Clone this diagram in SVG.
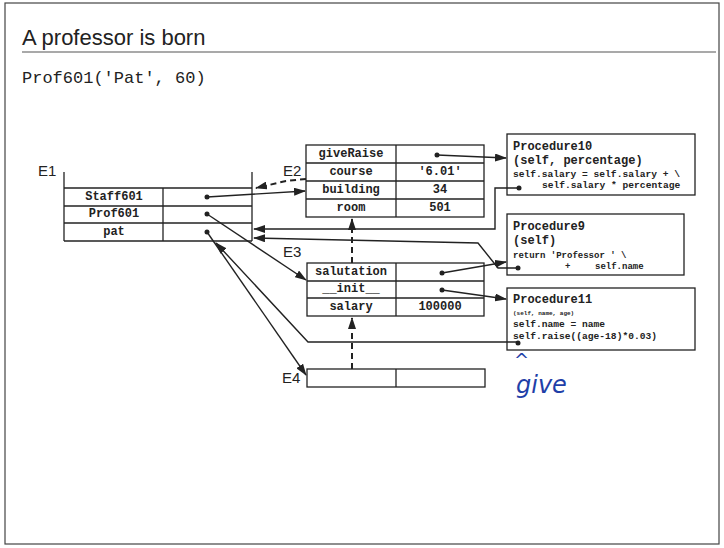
<svg xmlns="http://www.w3.org/2000/svg" width="724" height="548" viewBox="0 0 724 548">
<style>
.bx{fill:none;stroke:#222;stroke-width:1.3}
.ln{fill:none;stroke:#222;stroke-width:1.4}
.ds{fill:none;stroke:#222;stroke-width:2;stroke-dasharray:6,4}
.nm{font-family:"Liberation Mono",monospace;font-weight:bold;font-size:12px;fill:#222;text-anchor:middle;dominant-baseline:central}
.cd{font-family:"Liberation Mono",monospace;font-weight:bold;fill:#222}
.lb{font-family:"Liberation Sans",Arial,sans-serif;font-size:15px;fill:#222}
.dot{fill:#222}
</style>
<defs>
<marker id="ah" markerWidth="12" markerHeight="8" refX="11" refY="4" orient="auto" markerUnits="userSpaceOnUse">
<path d="M0,0 L12,4 L0,8 Z" fill="#222"/>
</marker>
</defs>
<rect x="5" y="3" width="714" height="541" fill="#fff" stroke="#444" stroke-width="1.2"/>
<text x="22" y="45" font-family="Liberation Sans,Arial,sans-serif" font-size="22" fill="#222">A professor is born</text>
<line x1="22" y1="52" x2="716" y2="52" stroke="#555" stroke-width="1.2"/>
<text x="22" y="83" font-family="Liberation Mono,monospace" font-size="17" fill="#222">Prof601('Pat', 60)</text>

<g id="E1">
<text class="lb" x="38" y="176">E1</text>
<line class="bx" x1="64" y1="172" x2="64" y2="241"/>
<line class="bx" x1="252" y1="172" x2="252" y2="241"/>
<line class="bx" x1="64" y1="188" x2="252" y2="188"/>
<line class="bx" x1="64" y1="206" x2="252" y2="206"/>
<line class="bx" x1="64" y1="223" x2="252" y2="223"/>
<line class="bx" x1="64" y1="241" x2="252" y2="241"/>
<line class="bx" x1="163" y1="188" x2="163" y2="241"/>
<text class="nm" x="114" y="197">Staff601</text>
<text class="nm" x="114" y="214">Prof601</text>
<text class="nm" x="114" y="232">pat</text>
<circle class="dot" cx="207" cy="197" r="2.5"/>
<circle class="dot" cx="207" cy="214" r="2.5"/>
<circle class="dot" cx="207" cy="232" r="2.5"/>
</g>

<g id="E2">
<text class="lb" x="283" y="176">E2</text>
<rect class="bx" x="306" y="145" width="178" height="72"/>
<line class="bx" x1="306" y1="163" x2="484" y2="163"/>
<line class="bx" x1="306" y1="181" x2="484" y2="181"/>
<line class="bx" x1="306" y1="199" x2="484" y2="199"/>
<line class="bx" x1="396" y1="145" x2="396" y2="217"/>
<text class="nm" x="351" y="154">giveRaise</text>
<text class="nm" x="351" y="172">course</text>
<text class="nm" x="351" y="190">building</text>
<text class="nm" x="351" y="208">room</text>
<text class="nm" x="440" y="172">'6.01'</text>
<text class="nm" x="440" y="190">34</text>
<text class="nm" x="440" y="208">501</text>
<circle class="dot" cx="437" cy="155" r="2.5"/>
</g>

<g id="E3">
<text class="lb" x="283" y="257">E3</text>
<rect class="bx" x="307" y="263" width="177" height="53"/>
<line class="bx" x1="307" y1="281" x2="484" y2="281"/>
<line class="bx" x1="307" y1="298" x2="484" y2="298"/>
<line class="bx" x1="396" y1="263" x2="396" y2="316"/>
<text class="nm" x="351" y="272">salutation</text>
<text class="nm" x="351" y="289">__init__</text>
<text class="nm" x="351" y="307">salary</text>
<text class="nm" x="440" y="307">100000</text>
<circle class="dot" cx="442" cy="273" r="2.5"/>
<circle class="dot" cx="442" cy="290" r="2.5"/>
</g>

<g id="E4">
<text class="lb" x="282" y="383">E4</text>
<rect class="bx" x="307" y="369" width="178" height="18"/>
<line class="bx" x1="396" y1="369" x2="396" y2="387"/>
</g>

<g id="P10">
<rect class="bx" x="507" y="134" width="188" height="61"/>
<text class="cd" x="513" y="150" font-size="12">Procedure10</text>
<text class="cd" x="513" y="164" font-size="12">(self, percentage)</text>
<text class="cd" x="513" y="177" font-size="9.6">self.salary = self.salary + \</text>
<text class="cd" x="542" y="188" font-size="9.6">self.salary * percentage</text>
<circle class="dot" cx="519" cy="188" r="2.5"/>
</g>

<g id="P9">
<rect class="bx" x="507" y="214" width="177" height="61"/>
<text class="cd" x="513" y="230" font-size="12">Procedure9</text>
<text class="cd" x="513" y="244" font-size="12">(self)</text>
<text class="cd" x="513" y="258" font-size="9">return 'Professor ' \</text>
<text class="cd" x="565" y="269" font-size="9">+</text>
<text class="cd" x="595" y="269" font-size="9">self.name</text>
<circle class="dot" cx="518" cy="268" r="2.5"/>
</g>

<g id="P11">
<rect class="bx" x="507" y="288" width="188" height="62"/>
<text class="cd" x="513" y="303" font-size="12">Procedure11</text>
<text class="cd" x="513" y="315" font-size="6">(self, name, age)</text>
<text class="cd" x="513" y="327" font-size="9.6">self.name = name</text>
<text class="cd" x="513" y="339" font-size="9.6">self.raise((age-18)*0.03)</text>
<circle class="dot" cx="518" cy="343" r="2.5"/>
</g>

<g id="connectors">
<line class="ln" x1="437" y1="155" x2="506" y2="158" marker-end="url(#ah)"/>
<line class="ln" x1="207" y1="197" x2="305" y2="191" marker-end="url(#ah)"/>
<line class="ln" x1="207" y1="214" x2="306" y2="280" marker-end="url(#ah)"/>
<line class="ln" x1="207" y1="232" x2="306" y2="375" marker-end="url(#ah)"/>
<path class="ds" d="M306,179 L286,181 L256,188" marker-end="url(#ah)"/>
<line class="ds" x1="352" y1="263" x2="352" y2="219" marker-end="url(#ah)"/>
<line class="ds" x1="352" y1="369" x2="352" y2="318" marker-end="url(#ah)"/>
<path class="ln" d="M519,188 H495 V229 H254" marker-end="url(#ah)"/>
<path class="ln" d="M518,268 H498 L478,243 L254,238" marker-end="url(#ah)"/>
<path class="ln" d="M518,342 H308 L216,243" marker-end="url(#ah)"/>
<line class="ln" x1="442" y1="273" x2="506" y2="262" marker-end="url(#ah)"/>
<line class="ln" x1="442" y1="290" x2="506" y2="299" marker-end="url(#ah)"/>
</g>

<g id="note" fill="#1f3fa8">
<text x="514" y="366" font-family="DejaVu Sans,sans-serif" font-size="18">^</text>
<text x="516" y="393" font-family="DejaVu Sans,sans-serif" font-style="italic" font-size="24">give</text>
</g>
</svg>
